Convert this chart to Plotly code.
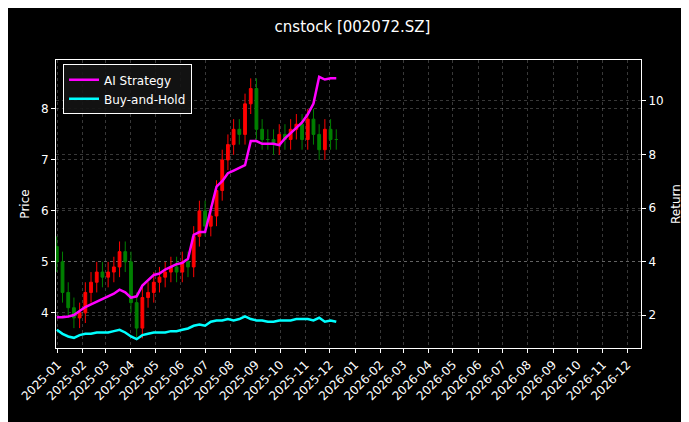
import pandas as pd
import plotly.graph_objects as go

dates = pd.date_range("2024-12-31", periods=50, freq="7D")
close = [5.0,4.4,4.1,3.9,4.0,4.4,4.6,4.8,4.7,4.8,4.9,5.2,5.0,4.2,3.7,4.3,4.4,4.6,4.7,4.8,4.9,4.8,5.0,4.9,5.5,6.0,5.7,5.9,6.4,7.0,7.3,7.6,7.5,8.1,8.4,7.6,7.4,7.4,7.3,7.5,7.4,7.6,7.7,7.4,7.8,7.5,7.2,7.6,7.4,7.4]
opn = [5.3]+close[:-1]
high = [max(o,c)+0.2 for o,c in zip(opn,close)]
low = [min(o,c)-0.2 for o,c in zip(opn,close)]
ai = [1.92,1.92,1.95,2.0,2.15,2.3,2.4,2.5,2.6,2.7,2.8,2.95,2.85,2.65,2.7,3.1,3.3,3.5,3.55,3.7,3.8,3.9,3.95,4.1,5.0,5.1,5.1,5.9,6.8,7.0,7.3,7.4,7.5,7.6,8.5,8.5,8.4,8.4,8.4,8.35,8.6,8.8,9.0,9.2,9.5,9.9,10.9,10.8,10.85,10.85]
bh = [1.45,1.3,1.2,1.15,1.25,1.3,1.3,1.35,1.35,1.35,1.4,1.45,1.35,1.2,1.1,1.25,1.3,1.35,1.35,1.35,1.4,1.4,1.45,1.5,1.6,1.65,1.6,1.75,1.8,1.8,1.85,1.8,1.85,1.95,1.85,1.8,1.8,1.75,1.75,1.8,1.8,1.8,1.85,1.85,1.85,1.8,1.9,1.75,1.8,1.75]

fig = go.Figure()
fig.add_trace(go.Candlestick(x=dates, open=opn, high=high, low=low, close=close,
    increasing=dict(line=dict(color="red", width=1), fillcolor="red"),
    decreasing=dict(line=dict(color="green", width=1), fillcolor="green"),
    showlegend=False, whiskerwidth=0))
fig.add_trace(go.Scatter(x=dates, y=ai, name="AI Strategy", yaxis="y2", line=dict(color="#ff00ff", width=2.5)))
fig.add_trace(go.Scatter(x=dates, y=bh, name="Buy-and-Hold", yaxis="y2", line=dict(color="#00ffff", width=2.5)))

grid = dict(showgrid=True, gridcolor="rgba(255,255,255,0.22)", griddash="dot", gridwidth=0.6)
fig.update_layout(
    width=689, height=422, paper_bgcolor="black", plot_bgcolor="black",
    font=dict(family="DejaVu Sans", color="white", size=12),
    title=dict(text="cnstock [002072.SZ]", x=0.5, y=0.955, xanchor="center", yanchor="middle", font=dict(size=15)),
    margin=dict(l=48, r=56, t=52, b=82, autoexpand=False),
    xaxis=dict(range=["2024-12-30", "2026-12-18"], rangeslider=dict(visible=False), automargin=False,
               tickformat="%Y-%m", dtick="M1", tick0="2025-01-01", tickangle=-45,
               ticks="outside", ticklen=4, tickcolor="white", showline=True, linecolor="white", mirror=True, **grid),
    yaxis=dict(title=dict(text="Price", standoff=8, font=dict(size=12)), range=[3.31, 8.96], dtick=1, ticks="outside", ticklen=4, tickcolor="white",
               showline=True, linecolor="white", automargin=False, **grid),
    yaxis2=dict(title=dict(text="Return", standoff=8, font=dict(size=12)), range=[0.77, 11.53], dtick=2, overlaying="y", side="right",
                ticks="outside", ticklen=4, tickcolor="white", showline=True, linecolor="white", automargin=False, **grid),
    legend=dict(x=0.012, y=0.985, bgcolor="rgba(20,20,20,0.9)", bordercolor="white", borderwidth=1, font=dict(size=12)),
)
fig.write_html("out.html")
